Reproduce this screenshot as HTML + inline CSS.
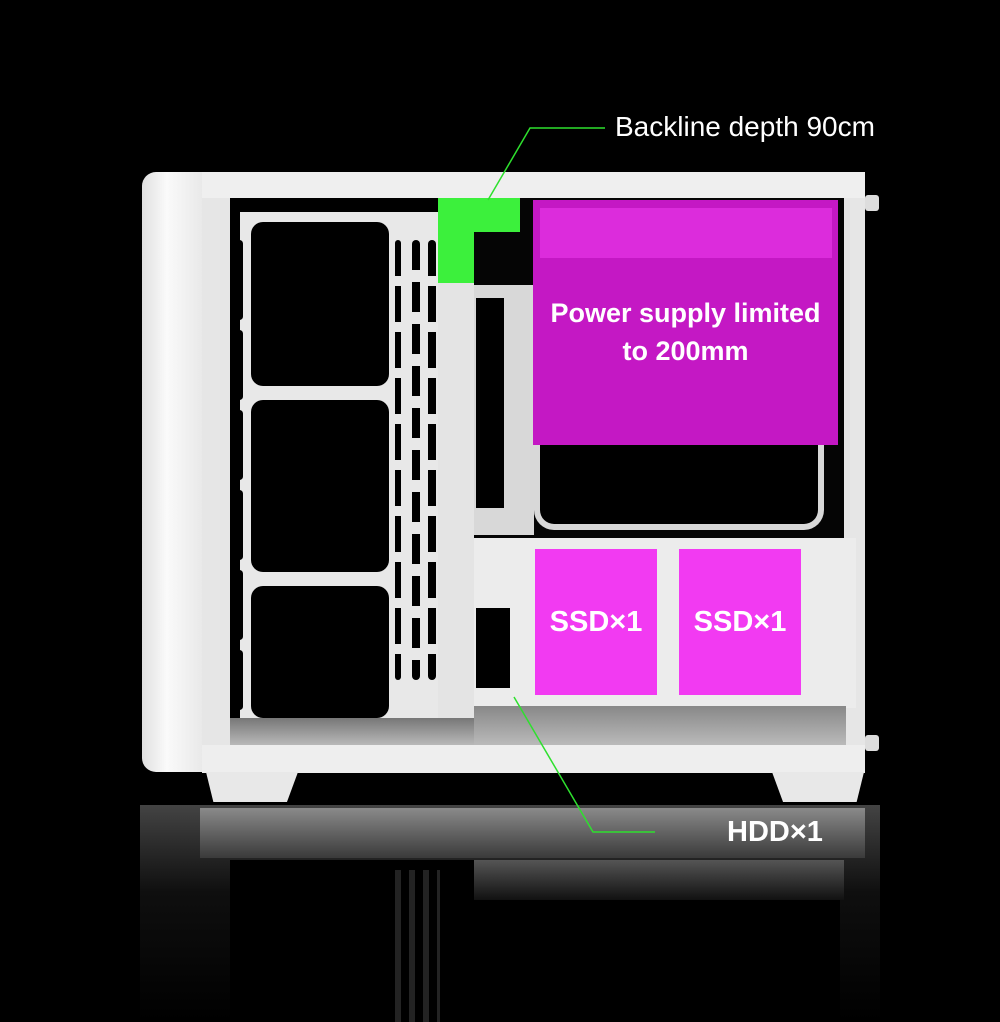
<!DOCTYPE html>
<html><head><style>
body{margin:0;width:1000px;height:1022px;background:#000;position:relative;overflow:hidden;font-family:"Liberation Sans",sans-serif}
div{position:absolute;box-sizing:border-box}
.w{background:#ececec}
.k{background:#000}
.slot{background:#000;border-radius:4px;width:8px}
.t{color:#fff;font-weight:bold;white-space:nowrap}
</style></head><body>
<!-- reflection -->
<div style="left:140px;top:805px;width:740px;height:217px;background:linear-gradient(rgba(150,150,150,.45),rgba(60,60,60,.25) 40%,rgba(0,0,0,0))"></div>
<div style="left:200px;top:808px;width:665px;height:50px;background:linear-gradient(#8a8a8a,#3a3a3a)"></div>
<div style="left:230px;top:860px;width:610px;height:162px;background:#000"></div>
<div style="left:395px;top:870px;width:45px;height:152px;background:repeating-linear-gradient(90deg,#3a3a3a 0 6px,#000 6px 14px);opacity:.6"></div>
<div style="left:474px;top:860px;width:370px;height:40px;background:linear-gradient(#555,#111)"></div>

<!-- front panel -->
<div style="left:142px;top:172px;width:62px;height:600px;background:linear-gradient(90deg,#e0e0e0,#fafafa 40%,#e8e8e8);border-radius:14px 0 0 14px"></div>
<!-- body -->
<div class="w" style="left:202px;top:172px;width:663px;height:600px;background:#e6e6e6"></div>
<div class="w" style="left:202px;top:172px;width:663px;height:26px;background:#efefef"></div>
<!-- left interior -->
<div class="k" style="left:230px;top:198px;width:208px;height:520px"></div>
<div class="w" style="left:240px;top:212px;width:160px;height:506px;background:#e8e8e8"></div>
<div class="k" style="left:251px;top:222px;width:138px;height:164px;border-radius:12px"></div>
<div class="k" style="left:251px;top:400px;width:138px;height:172px;border-radius:12px"></div>
<div class="k" style="left:251px;top:586px;width:138px;height:132px;border-radius:12px"></div>
<div class="w" style="left:400px;top:212px;width:38px;height:506px;background:#e8e8e8"></div>
<div class="slot" style="left:236px;top:240px;height:80px;width:7px"></div>
<div class="slot" style="left:236px;top:330px;height:70px;width:7px"></div>
<div class="slot" style="left:236px;top:410px;height:70px;width:7px"></div>
<div class="slot" style="left:236px;top:490px;height:70px;width:7px"></div>
<div class="slot" style="left:236px;top:570px;height:70px;width:7px"></div>
<div class="slot" style="left:236px;top:650px;height:60px;width:7px"></div>
<div class="slot" style="left:395px;top:240px;height:440px;width:6px;background:repeating-linear-gradient(#000 0 36px,#e8e8e8 36px 46px)"></div>
<div class="slot" style="left:412px;top:240px;height:440px;background:repeating-linear-gradient(#000 0 30px,#e8e8e8 30px 42px)"></div>
<div class="slot" style="left:428px;top:240px;height:440px;background:repeating-linear-gradient(#000 0 36px,#e8e8e8 36px 46px)"></div>
<!-- divider -->
<div class="w" style="left:438px;top:198px;width:36px;height:520px;background:#e4e4e4"></div>
<!-- right compartment -->
<div class="k" style="left:474px;top:198px;width:370px;height:340px;background:#050505"></div>
<div class="w" style="left:474px;top:285px;width:60px;height:250px;background:#d8d8d8"></div>
<div class="k" style="left:476px;top:298px;width:28px;height:210px"></div>
<div class="w" style="left:534px;top:440px;width:290px;height:90px;background:#000;border:6px solid #d8d8d8;border-top:none;border-radius:0 0 20px 20px"></div>
<div class="w" style="left:474px;top:538px;width:382px;height:170px;background:#ececec"></div>
<div class="k" style="left:476px;top:608px;width:34px;height:80px"></div>
<div style="left:474px;top:706px;width:372px;height:40px;background:linear-gradient(#888,#bbb)"></div>
<div style="left:230px;top:718px;width:244px;height:28px;background:linear-gradient(#777,#bbb)"></div>
<!-- bottom rail -->
<div class="w" style="left:202px;top:745px;width:663px;height:28px;background:#eee"></div>
<!-- feet -->
<div style="left:206px;top:772px;width:92px;height:30px;background:#e8e8e8;clip-path:polygon(0 0,100% 0,88% 100%,8% 100%)"></div>
<div style="left:772px;top:772px;width:92px;height:30px;background:#e8e8e8;clip-path:polygon(0 0,100% 0,92% 100%,12% 100%)"></div>
<!-- side knobs -->
<div style="left:865px;top:195px;width:14px;height:16px;background:#ddd;border-radius:3px"></div>
<div style="left:865px;top:735px;width:14px;height:16px;background:#ddd;border-radius:3px"></div>

<!-- PSU magenta -->
<div style="left:533px;top:200px;width:305px;height:245px;background:#c418c4"></div>
<div style="left:540px;top:208px;width:292px;height:50px;background:#e232e2;opacity:.8"></div>
<div class="t" style="left:533px;top:294px;width:305px;text-align:center;font-size:27px;line-height:38px">Power supply limited<br>to 200mm</div>
<!-- green -->
<div style="left:438px;top:198px;width:82px;height:34px;background:#3cf03c"></div>
<div style="left:438px;top:232px;width:36px;height:51px;background:#3cf03c"></div>
<!-- SSDs -->
<div style="left:535px;top:549px;width:122px;height:146px;background:#f23af2"></div>
<div style="left:679px;top:549px;width:122px;height:146px;background:#f23af2"></div>
<div class="t" style="left:535px;top:606px;width:122px;text-align:center;font-size:29px">SSD×1</div>
<div class="t" style="left:679px;top:606px;width:122px;text-align:center;font-size:29px">SSD×1</div>

<svg style="position:absolute;left:0;top:0" width="1000" height="1022">
<polyline points="488,200 530,128 605,128" fill="none" stroke="#2ee02e" stroke-width="1.5"/>
<polyline points="514,697 593,832 655,832" fill="none" stroke="#2ee02e" stroke-width="1.5"/>
</svg>
<div style="left:615px;top:111px;color:#fff;font-size:28px;white-space:nowrap">Backline depth 90cm</div>
<div class="t" style="left:727px;top:816px;font-size:29px">HDD×1</div>
</body></html>
